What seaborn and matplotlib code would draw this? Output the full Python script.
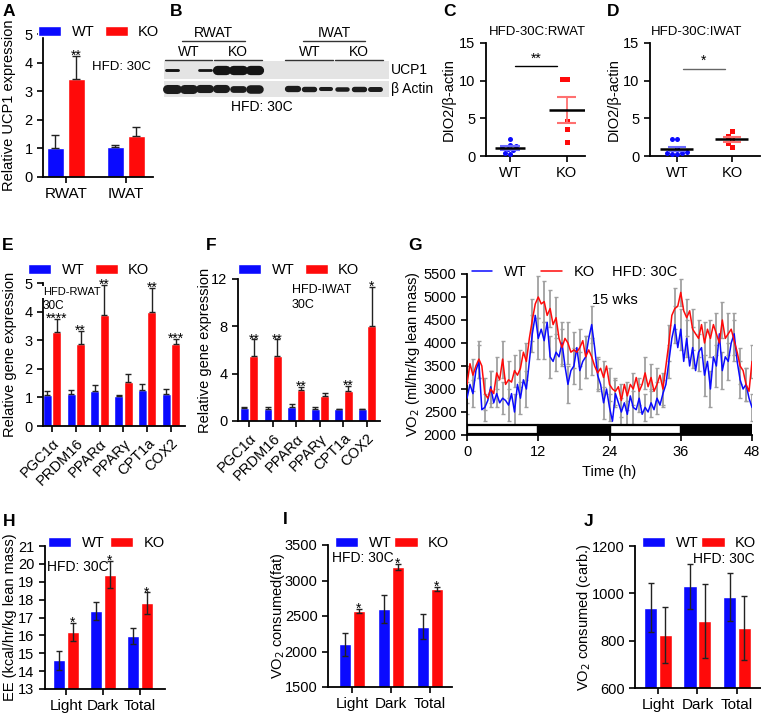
import numpy as np
import pandas as pd
import matplotlib
matplotlib.use("Agg")
import matplotlib.pyplot as plt
from matplotlib.patches import Rectangle
import seaborn as sns

# ---------------- data ----------------
# A: relative UCP1 expression
A_CATS = ["RWAT", "IWAT"]
A_WT = [1.02, 1.05]
A_WT_ERR = [0.45, 0.07]
A_KO = [3.43, 1.43]
A_KO_ERR = [0.80, 0.33]
A_STARS = ["**", ""]

# B: western blot band intensities (0 = no band)
B_LANE_GROUP = ["RWAT"] * 6 + ["IWAT"] * 6
B_UCP1 = [0.30, 0.0, 0.28, 1.0, 1.0, 1.0, 0, 0, 0, 0, 0, 0]
B_ACTIN = [1.0, 1.0, 0.9, 0.9, 0.75, 0.95, 0.7, 0.6, 0.45, 0.5, 0.6, 0.55]

# C / D: DIO2 / beta-actin
C_WT = [2.3, 1.5, 1.35, 1.0, 0.8, 0.3, 0.35, 0.9]
C_KO = [10.2, 10.2, 4.7, 3.65, 1.8]
D_WT = [2.3, 2.2, 1.0, 0.5, 0.35, 0.3, 0.3, 0.4]
D_KO = [3.3, 2.6, 2.2, 1.7, 1.2]

# E / F: gene expression
GENES = ["PGC1α", "PRDM16", "PPARα", "PPARγ", "CPT1a", "COX2"]
E_WT = [1.10, 1.12, 1.22, 1.05, 1.25, 1.12]
E_WT_ERR = [0.12, 0.15, 0.20, 0.05, 0.22, 0.18]
E_KO = [3.30, 2.88, 3.87, 1.55, 3.97, 2.85]
E_KO_ERR = [0.45, 0.45, 1.05, 0.28, 0.85, 0.20]
E_STARS = ["****", "**", "**", "", "**", "***"]
F_WT = [1.10, 1.05, 1.20, 1.05, 1.00, 1.00]
F_WT_ERR = [0.10, 0.10, 0.20, 0.10, 0.05, 0.05]
F_KO = [5.50, 5.50, 2.60, 2.10, 2.55, 8.00]
F_KO_ERR = [1.40, 1.40, 0.25, 0.25, 0.40, 3.30]
F_STARS = ["**", "**", "**", "", "**", "*"]

# G: VO2 time course, every 0.5 h
G_TIME = np.arange(0, 48.5, 0.5)
G_WT = [2800, 3100, 2900, 3400, 3600, 2550, 2600, 2750, 3050, 2700, 2900, 2700,
        2800, 2750, 2650, 2900, 2500, 3100, 2800, 3200, 3000, 3600, 4200, 4600,
        4100, 4300, 4050, 4450, 3700, 3600, 3800, 3700, 4000, 3500, 3100, 3400,
        3500, 3900, 3400, 3600, 3700, 4100, 4400, 3900, 3300, 3100, 2700, 3000,
        2600, 2300, 2900, 2700, 2500, 2700, 2450, 2850, 2600, 2550, 2800, 2450,
        2600, 2500, 2700, 2550, 2800, 2650, 2900, 3100, 3600, 4100, 4400, 3900,
        4300, 3600, 4100, 3500, 3900, 3400, 3800, 3900, 3300, 3600, 3000, 3700,
        3500, 4200, 3400, 3700, 3600, 4000, 4200, 3600, 3200, 3000, 3100, 2800,
        2600]
G_KO = [3100, 3550, 3300, 3500, 3650, 3500, 2900, 2800, 3000, 2900, 3350, 3200,
        3650, 3100, 3200, 3150, 3400, 3300, 3450, 3800, 3600, 4100, 4500, 4850,
        5000, 4850, 4900, 4600, 4750, 4400, 4550, 4100, 3900, 4100, 4000, 3800,
        3850, 3800, 3900, 4050, 3700, 3850, 3700, 3500, 3350, 3450, 3250, 3500,
        3100, 3000, 2950, 3050, 2750, 3100, 2850, 3100, 3000, 3250, 2950, 3100,
        3350, 3050, 3250, 2950, 3100, 3300, 3000, 3500, 4000, 4600, 4750, 4800,
        5100, 4700, 4550, 4700, 4300, 4200, 4100, 4400, 4000, 4300, 4100, 4400,
        4200, 4000, 4500, 4100, 4200, 4300, 4050, 3800, 3500, 3400, 3100, 2950,
        3600]
# error bars shown every hour
G_WT_ERR = [350, 300, 350, 300, 350, 300, 350, 350, 400, 350, 400, 400,
            450, 400, 450, 400, 450, 400, 400, 400, 450, 400, 350, 350,
            300, 300, 300, 300, 350, 300, 300, 300, 350, 300, 350, 400,
            450, 400, 450, 400, 450, 400, 450, 400, 400, 450, 400, 350, 300]
G_KO_ERR = [400, 350, 400, 350, 400, 350, 400, 400, 350, 400, 400, 450,
            450, 450, 400, 450, 400, 450, 400, 400, 450, 400, 350, 350,
            350, 300, 350, 300, 350, 300, 350, 300, 350, 350, 400, 450,
            300, 400, 450, 400, 450, 400, 450, 400, 450, 450, 400, 350, 350]
G_PHASE = ["light", "dark", "light", "dark"]
G_PHASE_LEN = [12, 12, 12, 12]

# H / I / J
PERIODS = ["Light", "Dark", "Total"]
H_WT = [14.6, 17.35, 15.95]
H_WT_ERR = [0.55, 0.5, 0.45]
H_KO = [16.2, 19.4, 17.8]
H_KO_ERR = [0.5, 0.75, 0.6]
I_WT = [2100, 2600, 2350]
I_WT_ERR = [160, 200, 180]
I_KO = [2570, 3190, 2880]
I_KO_ERR = [30, 40, 25]
J_WT = [940, 1030, 985]
J_WT_ERR = [105, 95, 100]
J_KO = [825, 883, 855]
J_KO_ERR = [118, 157, 135]
HIJ_STARS = ["*", "*", "*"]

BLUE = "#0a0aff"
RED = "#ff0a0a"
PAL = {"WT": BLUE, "KO": RED}

# ---------------- style ----------------
sns.set_style("ticks")
plt.rcParams["font.family"] = ["Liberation Sans", "DejaVu Sans"]
plt.rcParams.update({
    "axes.linewidth": 1.3, "axes.edgecolor": "black",
    "xtick.major.width": 1.2, "ytick.major.width": 1.2,
    "xtick.major.size": 4, "ytick.major.size": 4,
    "xtick.labelsize": 10.5, "ytick.labelsize": 10.5,
    "axes.labelsize": 10.5, "xtick.color": "black", "ytick.color": "black",
    "text.color": "black", "axes.labelcolor": "black",
})

W, H = 761, 713
fig = plt.figure(figsize=(W / 100, H / 100), dpi=100)


def add_ax(l, t, r, b):
    ax = fig.add_axes([l / W, 1 - b / H, (r - l) / W, (b - t) / H])
    ax.box_px = (l, t, r, b)
    return ax


def ftext(x, y, s, **kw):
    kw.setdefault("va", "center")
    fig.text(x / W, 1 - y / H, s, **kw)


def ylabel_at(ax, s, x_px):
    l, t, r, b = ax.box_px
    ax.set_ylabel(s)
    ax.yaxis.set_label_coords((x_px - l) / (r - l), 0.5)


def legend_at(ax, x_px, y_px, **kw):
    l, t, r, b = ax.box_px
    opts = dict(ncol=2, frameon=False, title=None, borderpad=0, borderaxespad=0,
                handlelength=1.6, handleheight=0.75, handletextpad=0.7,
                columnspacing=0.7, fontsize=10.5)
    opts.update(kw)
    sns.move_legend(ax, "center left",
                    bbox_to_anchor=((x_px - l) / (r - l), (b - y_px) / (b - t)), **opts)


def bar_panel(ax, cats, wt, wt_err, ko, ko_err, width, gap, one_sided, capsize, stars):
    n = len(cats)
    df = pd.DataFrame({"cat": list(cats) * 2, "geno": ["WT"] * n + ["KO"] * n,
                       "val": list(wt) + list(ko)})
    sns.barplot(data=df, x="cat", y="val", hue="geno", hue_order=["WT", "KO"],
                palette=PAL, width=width, gap=gap, errorbar=None, saturation=1, ax=ax)
    bars = list(ax.containers[:2])
    for cont, err in zip(bars, [wt_err, ko_err]):
        xs = [p.get_x() + p.get_width() / 2 for p in cont]
        ys = [p.get_height() for p in cont]
        yerr = [np.zeros(len(err)), err] if one_sided else err
        ax.errorbar(xs, ys, yerr=yerr, fmt="none", ecolor="#222222", elinewidth=1,
                    capsize=capsize, capthick=1, zorder=3)
    for p, e, s in zip(bars[1], ko_err, stars):
        if s:
            ax.annotate(s, (p.get_x() + p.get_width() / 2, p.get_height() + e),
                        xytext=(0, -5), textcoords="offset points",
                        ha="center", va="bottom", fontsize=10, annotation_clip=False)
    ax.set_xlabel("")
    sns.despine(ax=ax)


# ---------------- A ----------------
axA = add_ax(43, 34, 153, 177)
bar_panel(axA, A_CATS, A_WT, A_WT_ERR, A_KO, A_KO_ERR, 0.7, 0.2, True, 3, A_STARS)
axA.set_xlim(-0.38, 1.45)
axA.set_ylim(0, 5)
axA.set_yticks(range(0, 6))
ylabel_at(axA, "Relative UCP1 expression", 16)
legend_at(axA, 38, 32)
ftext(92, 67, "HFD: 30C", fontsize=9.5)

# ---------------- B ----------------
axB = add_ax(160, 20, 395, 112)
lane_x = np.array([i + (1.33 if g == "IWAT" else 0) for i, g in enumerate(B_LANE_GROUP)])
axB.set_xlim(-0.727, 13.52)
axB.set_ylim(112, 20)
axB.axis("off")
for y0, y1 in [(61, 79), (81, 97)]:
    axB.add_patch(Rectangle((-0.485, y0), 13.64, y1 - y0, color="#e4e4e4", lw=0))
for x, u, a in zip(lane_x, B_UCP1, B_ACTIN):
    if u > 0:
        half = 0.28 if u > 0.5 else 0.35
        axB.plot([x - half, x + half], [70, 70], color="#151515", lw=1.2 + 5.5 * u ** 1.5,
                 solid_capstyle="round")
    axB.plot([x - 0.3, x + 0.3], [89, 89], color="#1c1c1c", lw=6.5 * a, solid_capstyle="round")
for g in ["RWAT", "IWAT"]:
    xs = lane_x[[i for i, gg in enumerate(B_LANE_GROUP) if gg == g]]
    c = xs.mean()
    axB.text(c, 33, g, ha="center", va="center", fontsize=10)
    axB.plot([c - 1.9, c + 1.9], [41, 41], color="#333", lw=1)
    for sub, sx in [("WT", xs[:3].mean()), ("KO", xs[3:].mean())]:
        axB.text(sx, 52, sub, ha="center", va="center", fontsize=10)
        axB.plot([sx - 1.45, sx + 1.45], [60, 60], color="#333", lw=1)
ftext(391, 70, "UCP1", fontsize=10)
ftext(391, 89, "β Actin", fontsize=10)
ftext(262, 107, "HFD: 30C", fontsize=10, ha="center")


# ---------------- C / D ----------------
def dot_panel(ax, wt, ko, sig_y, sig_x, sig_text, sig_color, mean_w):
    sns.swarmplot(x=["WT"] * len(wt), y=wt, order=["WT", "KO"], color=BLUE,
                  marker="o", size=3.6, ax=ax)
    sns.swarmplot(x=["KO"] * len(ko), y=ko, order=["WT", "KO"], color=RED,
                  marker="s", size=3.6, ax=ax)
    for i, (vals, c) in enumerate([(wt, "#6b6bff"), (ko, "#ff7070")]):
        m = np.mean(vals)
        s = np.std(vals, ddof=1) / np.sqrt(len(vals))
        ax.vlines(i, m - s, m + s, color=c, lw=1.3, zorder=4)
        ax.hlines([m - s, m + s], i - 0.17, i + 0.17, color=c, lw=1.5, zorder=4)
        ax.hlines(m, i - mean_w[i], i + mean_w[i], color="black", lw=1.8, zorder=5)
    ax.plot(sig_x, [sig_y, sig_y], color=sig_color, lw=1)
    ax.text(np.mean(sig_x), sig_y + 0.1, sig_text, ha="center", va="bottom", fontsize=10)
    ax.set_ylim(0, 15)
    ax.set_yticks([0, 5, 10, 15])
    sns.despine(ax=ax)


axC = add_ax(486, 43, 585, 156)
dot_panel(axC, C_WT, C_KO, 11.9, [0.09, 0.82], "**", "black", [0.26, 0.32])
axC.set_xlim(-0.42, 1.32)
ylabel_at(axC, "DIO2/β-actin", 456)
ftext(537, 32, "HFD-30C:RWAT", fontsize=9.5, ha="center")

axD = add_ax(650, 43, 760, 156)
dot_panel(axD, D_WT, D_KO, 11.6, [0.11, 0.87], "*", "#666666", [0.3, 0.3])
axD.set_xlim(-0.49, 1.51)
ylabel_at(axD, "DIO2/β-actin", 621)
ftext(697, 32, "HFD-30C:IWAT", fontsize=9.5, ha="center")

# ---------------- E / F ----------------
axE = add_ax(43, 283, 185, 426)
bar_panel(axE, GENES, E_WT, E_WT_ERR, E_KO, E_KO_ERR, 0.8, 0.06, True, 2.5, E_STARS)
axE.set_xlim(-0.38, 5.59)
axE.set_ylim(0, 5)
axE.set_yticks(range(0, 6))
axE.tick_params(axis="x", labelrotation=45, labelsize=10.5)
for lab in axE.get_xticklabels():
    lab.set_ha("right")
    lab.set_rotation_mode("anchor")
ylabel_at(axE, "Relative gene expression", 17)
legend_at(axE, 28, 270)
ftext(43, 292, "HFD-RWAT", fontsize=8,
      bbox=dict(facecolor="white", edgecolor="none", pad=0.5))
ftext(43, 306, "30C", fontsize=8.5)

axF = add_ax(238, 279, 380, 421)
bar_panel(axF, GENES, F_WT, F_WT_ERR, F_KO, F_KO_ERR, 0.8, 0.06, True, 2.5, F_STARS)
axF.set_xlim(-0.47, 5.55)
axF.set_ylim(0, 12)
axF.set_yticks([0, 4, 8, 12])
axF.tick_params(axis="x", labelrotation=45, labelsize=10.5)
for lab in axF.get_xticklabels():
    lab.set_ha("right")
    lab.set_rotation_mode("anchor")
ylabel_at(axF, "Relative gene expression", 212)
legend_at(axF, 238, 270)
ftext(292, 290, "HFD-IWAT", fontsize=9)
ftext(292, 305, "30C", fontsize=9)

# ---------------- G ----------------
axG = add_ax(467, 274, 752, 435)
hours = G_TIME[::2]
for vals, err in [(G_WT, G_WT_ERR), (G_KO, G_KO_ERR)]:
    _, caps, _ = axG.errorbar(hours, np.asarray(vals)[::2], yerr=err, fmt="none",
                              ecolor="#a0a0a0", elinewidth=1.3, capsize=1.6, capthick=1, zorder=1)
    for c in caps:
        c.set_color("#444444")
g_df = pd.DataFrame({"t": np.concatenate([G_TIME, G_TIME]),
                     "v": G_WT + G_KO,
                     "geno": ["WT"] * len(G_WT) + ["KO"] * len(G_KO)})
sns.lineplot(data=g_df, x="t", y="v", hue="geno", hue_order=["WT", "KO"], palette=PAL,
             lw=1.1, errorbar=None, ax=axG, zorder=3)
starts = np.cumsum([0] + G_PHASE_LEN[:-1])
axG.broken_barh([(s, d) for s, d, p in zip(starts, G_PHASE_LEN, G_PHASE) if p == "light"],
                (2030, 190), facecolors="white", edgecolors="black", lw=1.6, zorder=4)
axG.broken_barh([(s, d) for s, d, p in zip(starts, G_PHASE_LEN, G_PHASE) if p == "dark"],
                (2030, 190), facecolors="black", edgecolors="black", lw=1.6, zorder=4)
axG.set_xlim(0, 48)
axG.set_ylim(2000, 5500)
axG.set_xticks([0, 12, 24, 36, 48])
axG.set_yticks(range(2000, 5501, 500))
axG.set_xlabel("Time (h)", fontsize=10.5)
ylabel_at(axG, "VO$_2$ (ml/hr/kg lean mass)", 422)
sns.despine(ax=axG)
legend_at(axG, 472, 272, handlelength=1.4, columnspacing=1.0, handletextpad=0.8)
ftext(612, 272, "HFD: 30C", fontsize=10.5)
ftext(615, 300, "15 wks", fontsize=10.5, ha="center")

# ---------------- H / I / J ----------------
axH = add_ax(45, 546, 165, 689)
bar_panel(axH, PERIODS, H_WT, H_WT_ERR, H_KO, H_KO_ERR, 0.75, 0.15, False, 2.5, HIJ_STARS)
axH.set_xlim(-0.57, 2.68)
axH.set_ylim(13, 21)
axH.set_yticks(range(13, 22))
ylabel_at(axH, "EE (kcal/hr/kg lean mass)", 17)
legend_at(axH, 48, 543, columnspacing=0.4)
ftext(47, 567, "HFD: 30C", fontsize=10)

axI = add_ax(328, 545, 452, 687)
bar_panel(axI, PERIODS, I_WT, I_WT_ERR, I_KO, I_KO_ERR, 0.7, 0.1, False, 2.5, HIJ_STARS)
axI.set_xlim(-0.62, 2.56)
axI.set_ylim(1500, 3500)
axI.set_yticks(range(1500, 3501, 500))
ylabel_at(axI, "VO$_2$ consumed(fat)", 287)
legend_at(axI, 335, 543, columnspacing=0.2)
ftext(332, 558, "HFD: 30C", fontsize=10)

axJ = add_ax(635, 546, 761, 688)
bar_panel(axJ, PERIODS, J_WT, J_WT_ERR, J_KO, J_KO_ERR, 0.75, 0.1, False, 2.5, ["", "", ""])
axJ.set_xlim(-0.58, 2.61)
axJ.set_ylim(600, 1200)
axJ.set_yticks(range(600, 1201, 200))
ylabel_at(axJ, "VO$_2$ consumed (carb.)", 593)
legend_at(axJ, 642, 543, columnspacing=0.2)
ftext(693, 559, "HFD: 30C", fontsize=10)

for ax in [axA, axH, axI, axJ]:
    ax.tick_params(axis="x", labelsize=11)

# panel letters
for letter, x, y in [("A", 9, 12), ("B", 176, 12), ("C", 450, 12), ("D", 613, 12),
                     ("E", 8, 246), ("F", 211, 246), ("G", 415, 245),
                     ("H", 9, 521), ("I", 285, 520), ("J", 589, 521)]:
    ftext(x, y, letter, fontsize=12.5, fontweight="bold", ha="center")

fig.savefig("out.png", dpi=100)
